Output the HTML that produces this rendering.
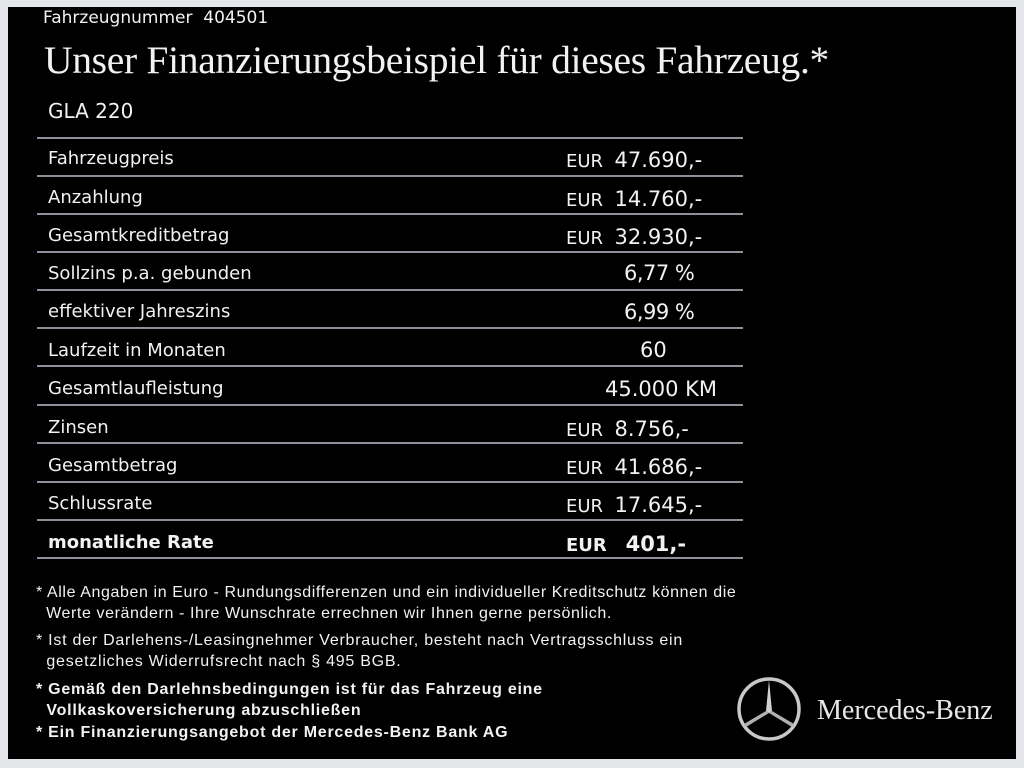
<!DOCTYPE html>
<html><head><meta charset="utf-8"><style>
body{margin:0;width:1024px;height:768px;background:#e4e6ea;position:relative;overflow:hidden;font-family:"DejaVu Sans","Liberation Sans",sans-serif;color:#f2f2f2}
#bg{position:absolute;left:8px;top:7px;width:1008px;height:752px;background:#000}
.a{position:absolute;white-space:nowrap}
.ln{position:absolute;left:37px;width:706px;height:2px;background:#8c919c}
.l{left:48px;font-size:18px}
.v{font-size:18px}
.f{font-family:"Liberation Sans",sans-serif;font-size:16px;line-height:21px;left:36px}
</style></head><body>
<div id="bg"></div>
<div class="a" style="left:43px;top:8px;font-size:17px">Fahrzeugnummer&nbsp; 404501</div>
<div class="a" style="left:44px;top:37px;font-family:'Liberation Serif',serif;font-size:39.5px;letter-spacing:-0.3px">Unser Finanzierungsbeispiel für dieses Fahrzeug.*</div>
<div class="a" style="left:48px;top:99px;font-size:20px">GLA 220</div>

<div class="ln" style="top:137px"></div>
<div class="ln" style="top:175px"></div>
<div class="ln" style="top:213px"></div>
<div class="ln" style="top:251px"></div>
<div class="ln" style="top:289px"></div>
<div class="ln" style="top:327px"></div>
<div class="ln" style="top:365px"></div>
<div class="ln" style="top:404px"></div>
<div class="ln" style="top:442px"></div>
<div class="ln" style="top:481px"></div>
<div class="ln" style="top:519px"></div>
<div class="ln" style="top:557px"></div>

<div class="a l" style="top:148px">Fahrzeugpreis</div>
<div class="a l" style="top:187px">Anzahlung</div>
<div class="a l" style="top:225px">Gesamtkreditbetrag</div>
<div class="a l" style="top:263px">Sollzins p.a. gebunden</div>
<div class="a l" style="top:301px">effektiver Jahreszins</div>
<div class="a l" style="top:340px">Laufzeit in Monaten</div>
<div class="a l" style="top:378px">Gesamtlaufleistung</div>
<div class="a l" style="top:417px">Zinsen</div>
<div class="a l" style="top:455px">Gesamtbetrag</div>
<div class="a l" style="top:493px">Schlussrate</div>
<div class="a l" style="top:532px;font-weight:bold">monatliche Rate</div>

<div class="a v" style="left:566px;top:148px">EUR&nbsp; <span style="font-size:21px">47.690,-</span></div>
<div class="a v" style="left:566px;top:187px">EUR&nbsp; <span style="font-size:21px">14.760,-</span></div>
<div class="a v" style="left:566px;top:225px">EUR&nbsp; <span style="font-size:21px">32.930,-</span></div>
<div class="a v" style="left:624px;top:261px;font-size:21px;letter-spacing:-0.5px">6,77 %</div>
<div class="a v" style="left:624px;top:300px;font-size:21px;letter-spacing:-0.5px">6,99 %</div>
<div class="a v" style="left:640px;top:338px;font-size:21px">60</div>
<div class="a v" style="left:605px;top:377px;font-size:21px">45.000 KM</div>
<div class="a v" style="left:566px;top:417px">EUR&nbsp; <span style="font-size:21px">8.756,-</span></div>
<div class="a v" style="left:566px;top:455px">EUR&nbsp; <span style="font-size:21px">41.686,-</span></div>
<div class="a v" style="left:566px;top:493px">EUR&nbsp; <span style="font-size:21px">17.645,-</span></div>
<div class="a v" style="left:566px;top:532px;font-weight:bold">EUR&nbsp;&nbsp; <span style="font-size:21px">401,-</span></div>

<div class="a f" style="top:582px;letter-spacing:0.6px">* Alle Angaben in Euro - Rundungsdifferenzen und ein individueller Kreditschutz können die<br>&nbsp; Werte verändern - Ihre Wunschrate errechnen wir Ihnen gerne persönlich.</div>
<div class="a f" style="top:630px;letter-spacing:0.75px">* Ist der Darlehens-/Leasingnehmer Verbraucher, besteht nach Vertragsschluss ein<br>&nbsp; gesetzliches Widerrufsrecht nach § 495 BGB.</div>
<div class="a f" style="top:679px;font-weight:bold;letter-spacing:0.75px">* Gemäß den Darlehnsbedingungen ist für das Fahrzeug eine<br>&nbsp; Vollkaskoversicherung abzuschließen</div>
<div class="a f" style="top:722px;font-weight:bold;letter-spacing:0.75px">* Ein Finanzierungsangebot der Mercedes-Benz Bank AG</div>

<svg class="a" style="left:735px;top:675px" width="68" height="68" viewBox="0 0 68 68">
<circle cx="34" cy="34" r="30" fill="none" stroke="#c8c8c8" stroke-width="3.5"/>
<polygon points="34,5 37,36 34,38 31,36" fill="#d0d0d0"/>
<polygon points="34,38 37,36 59,49 57,52" fill="#b0b0b0"/>
<polygon points="34,38 31,36 9,49 11,52" fill="#b0b0b0"/>
</svg>
<div class="a" style="left:817px;top:695px;font-family:'Liberation Serif',serif;font-size:28px;color:#e8e8e8">Mercedes-Benz</div>
</body></html>
